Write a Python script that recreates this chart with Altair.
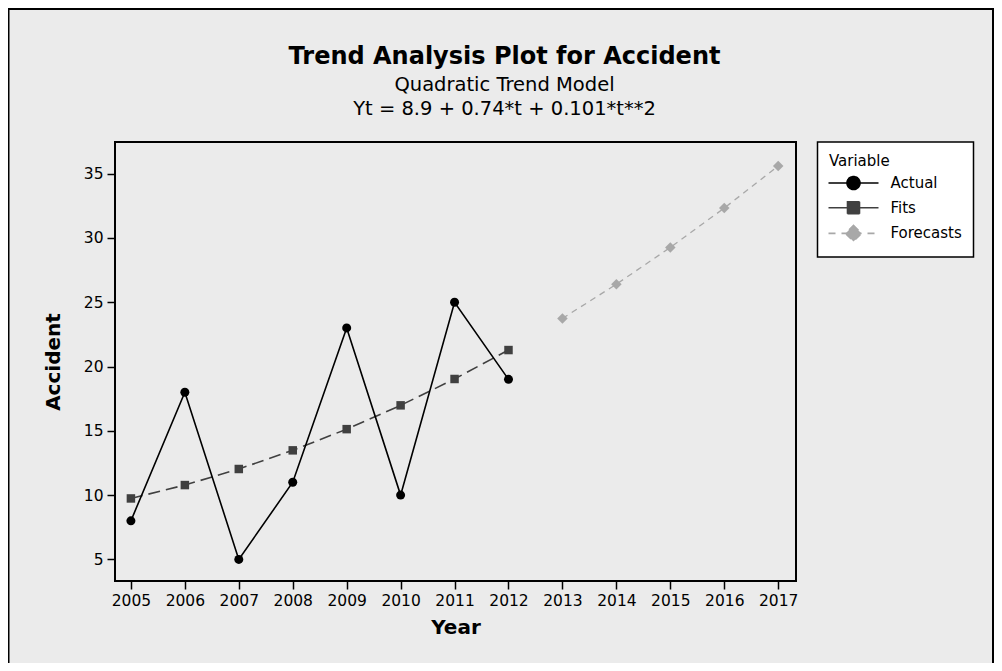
import altair as alt
import pandas as pd

# ---- data ----
years_fit = [2005, 2006, 2007, 2008, 2009, 2010, 2011, 2012]
actual = [8, 18, 5, 11, 23, 10, 25, 19]
fits = [9.74, 10.78, 12.03, 13.48, 15.13, 16.98, 19.03, 21.28]
years_fc = [2013, 2014, 2015, 2016, 2017]
forecasts = [23.74, 26.40, 29.26, 32.32, 35.59]
variables = ["Actual", "Fits", "Forecasts"]
x_ticks = [2005, 2006, 2007, 2008, 2009, 2010, 2011, 2012, 2013, 2014, 2015, 2016, 2017]
y_ticks = [5, 10, 15, 20, 25, 30, 35]

rows = []
for yr, v in zip(years_fit, actual):
    rows.append({"Year": yr, "Value": v, "Variable": "Actual"})
for yr, v in zip(years_fit, fits):
    rows.append({"Year": yr, "Value": v, "Variable": "Fits"})
for yr, v in zip(years_fc, forecasts):
    rows.append({"Year": yr, "Value": v, "Variable": "Forecasts"})
df = pd.DataFrame(rows)

FONT = "DejaVu Sans"
colors = ["#000000", "#404040", "#A8A8A8"]
NB = "\u00a0"

x = alt.X("Year:Q",
          scale=alt.Scale(domain=[2004.705, 2017.33], nice=False, zero=False),
          axis=alt.Axis(values=x_ticks, format="d", title="Year", titlePadding=9))
y = alt.Y("Value:Q",
          scale=alt.Scale(domain=[3.32, 37.46], nice=False, zero=False),
          axis=alt.Axis(values=y_ticks, title="Accident", titlePadding=20))

base = alt.Chart(df)

def sel(name):
    return base.transform_filter(alt.datum.Variable == name)

line_actual = sel("Actual").mark_line(color=colors[0], strokeWidth=1.6).encode(x=x, y=y)
line_fits = sel("Fits").mark_line(color=colors[1], strokeWidth=1.6, strokeDash=[12, 6]).encode(x=x, y=y)
line_fc = sel("Forecasts").mark_line(color=colors[2], strokeWidth=1.3, strokeDash=[6, 5]).encode(x=x, y=y)

pts_actual = sel("Actual").mark_point(shape="circle", filled=True, color=colors[0], size=81, opacity=1).encode(x=x, y=y)
pts_fits = sel("Fits").mark_point(shape="square", filled=True, color=colors[1], size=72, opacity=1).encode(x=x, y=y)
pts_fc = sel("Forecasts").mark_point(shape="diamond", filled=True, color=colors[2], size=110, opacity=1).encode(x=x, y=y)

# legend symbols: line with marker (unit = 5 px at symbolSize 100)
legend_paths = [
    "M-5,0H5M1.3,0A1.3,1.3,0,1,1,-1.3,0A1.3,1.3,0,1,1,1.3,0Z",
    "M-5,0H5M-1.2,-1.2H1.2V1.2H-1.2Z",
    "M-5,0H5M0,-1.6L1.6,0L0,1.6L-1.6,0Z",
]
leg = alt.Legend(
    title=NB * 12 + "Variable", orient="none", legendX=702.5, legendY=0,
    fillColor="white", strokeColor="black", padding=11.5,
    symbolSize=100, symbolStrokeWidth=1.6, symbolOffset=17, labelOffset=29.5,
    labelFont=FONT, labelFontSize=15, labelColor="black",
    titleFont=FONT, titleFontSize=15, titleFontWeight="normal", titleColor="black",
    titlePadding=7, rowPadding=4.7,
    labelExpr="datum.label + '" + NB * 3 + "'",
)
legend_layer = base.transform_filter("false").mark_point(filled=True, opacity=1, size=100).encode(
    shape=alt.Shape("Variable:N", scale=alt.Scale(domain=variables, range=legend_paths), legend=leg),
    fill=alt.Fill("Variable:N", scale=alt.Scale(domain=variables, range=colors), legend=leg),
    stroke=alt.Stroke("Variable:N", scale=alt.Scale(domain=variables, range=colors), legend=leg),
    strokeDash=alt.StrokeDash("Variable:N", scale=alt.Scale(domain=variables, range=[[1, 0], [1, 0], [7, 6]]), legend=leg),
)

frame = alt.Chart(alt.Data(values=[{"a": 1}])).mark_rect(
    filled=False, stroke="black", strokeWidth=2, clip=False
).encode(x=alt.value(-106.5), x2=alt.value(986 - 107 - 1), y=alt.value(-133), y2=alt.value(560))

W, H = 681, 439
PL, PT = 107, 134
chart = alt.layer(
    frame, line_fits, line_fc, line_actual, pts_fits, pts_fc, pts_actual, legend_layer
).properties(
    width=W, height=H,
    autosize=alt.AutoSizeParams(type="none"),
    padding={"left": PL, "top": PT, "right": 986 - PL - W, "bottom": 655 - PT - H},
    background="#EBEBEB",
    title=alt.TitleParams(
        text="Trend Analysis Plot for Accident",
        subtitle=["Quadratic Trend Model", "Yt = 8.9 + 0.74*t + 0.101*t**2"],
        anchor="middle", frame="group", dx=49, offset=-111,
        font=FONT, fontSize=24, fontWeight="bold", color="black",
        subtitleFont=FONT, subtitleFontSize=19.5, subtitleColor="black",
        subtitlePadding=7, subtitleLineHeight=24.3,
    ),
).configure_view(
    stroke="black", strokeWidth=2, fill="white"
).configure_legend(
    strokeWidth=1.5
).configure_axis(
    domain=False, grid=False,
    tickColor="black", tickWidth=1.5, tickSize=8,
    labelFont=FONT, labelFontSize=15.5, labelColor="black", labelPadding=4,
    titleFont=FONT, titleFontSize=20, titleFontWeight="bold", titleColor="black",
)

chart.save("out.html", embed_options={"renderer": "svg", "actions": False})
